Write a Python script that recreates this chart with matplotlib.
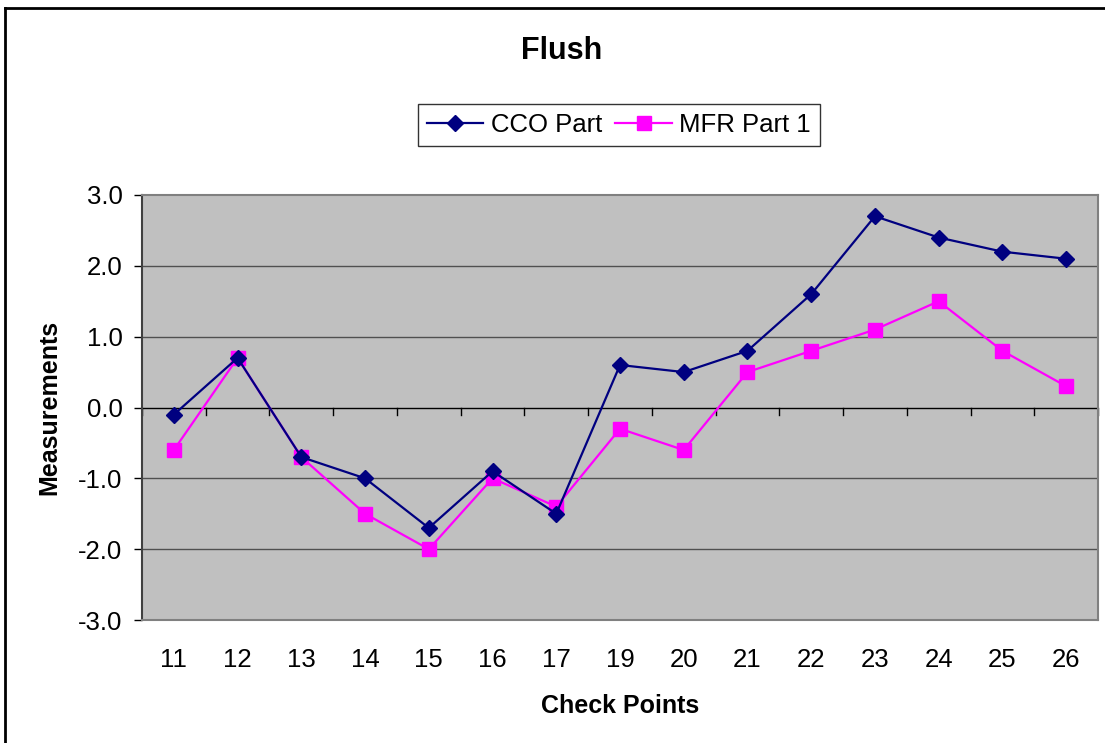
import matplotlib
matplotlib.use("Agg")
import matplotlib.pyplot as plt
from matplotlib.lines import Line2D
import numpy as np

categories = ["11", "12", "13", "14", "15", "16", "17", "19", "20", "21", "22", "23", "24", "25", "26"]
cco_part = [-0.1, 0.7, -0.7, -1.0, -1.7, -0.9, -1.5, 0.6, 0.5, 0.8, 1.6, 2.7, 2.4, 2.2, 2.1]
mfr_part1 = [-0.6, 0.7, -0.7, -1.5, -2.0, -1.0, -1.4, -0.3, -0.6, 0.5, 0.8, 1.1, 1.5, 0.8, 0.3]
y_ticks = [-3.0, -2.0, -1.0, 0.0, 1.0, 2.0, 3.0]

plt.rcParams['font.family'] = ['Liberation Sans', 'DejaVu Sans']

W, H = 1105, 743
fig = plt.figure(figsize=(W / 100, H / 100), dpi=100)
ax = fig.add_axes([142 / W, 1 - 620 / H, (1098 - 142) / W, (620 - 195) / H])
ax.set_facecolor('#C0C0C0')

x = np.arange(len(categories))
ax.set_xlim(-0.5, len(categories) - 0.5)
ax.set_ylim(-3, 3)

for yv in y_ticks:
    if yv not in (-3.0, 3.0, 0.0):
        ax.axhline(yv, color='#505050', lw=1.0, zorder=1)

# zero axis line with ticks at category boundaries
ax.axhline(0, color='black', lw=1.0, zorder=2)
for b in np.arange(-0.5, len(categories) + 0.5, 1.0):
    ax.plot([b, b], [0, -0.1], color='black', lw=1.0, zorder=2, clip_on=False)

ax.plot(x, cco_part, color='#000080', lw=1.6, marker='D', markersize=8.5,
        markerfacecolor='#000080', markeredgecolor='#000080', label='CCO Part', zorder=4)
ax.plot(x, mfr_part1, color='#FF00FF', lw=1.6, marker='s', markersize=9.5,
        markerfacecolor='#FF00FF', markeredgecolor='#FF00FF', label='MFR Part 1', zorder=3)

ax.set_yticks(y_ticks)
ax.set_yticklabels([f"{v:.1f}" for v in y_ticks])
ax.set_xticks(x)
ax.set_xticklabels(categories)
ax.tick_params(axis='y', length=6, width=1, pad=8, labelsize=18.5, color='black')
ax.tick_params(axis='x', length=0, pad=20, labelsize=18.5)

for s in ['top', 'right', 'bottom']:
    ax.spines[s].set_color('#808080')
    ax.spines[s].set_linewidth(1.5)
ax.spines['left'].set_color('#404040')
ax.spines['left'].set_linewidth(1.5)

ax.set_xlabel('Check Points', fontsize=18, fontweight='bold', labelpad=16)
ax.set_ylabel('Measurements', fontsize=18, fontweight='bold', labelpad=12)

fig.text(562 / W, 1 - 51 / H, 'Flush', ha='center', va='center', fontsize=22, fontweight='bold')

leg = fig.legend(loc='center', bbox_to_anchor=(619 / W, 1 - 125 / H), ncol=2, fontsize=18.5,
                 frameon=True, fancybox=False, edgecolor='black', handlelength=2.2,
                 handletextpad=0.3, columnspacing=0.5, borderpad=0.35, borderaxespad=0)
leg.get_frame().set_linewidth(1.0)

# chart border (left and top)
fig.add_artist(Line2D([5 / W, 5 / W], [0, 1 - 8 / H], transform=fig.transFigure, color='black', lw=2))
fig.add_artist(Line2D([5 / W, 1], [1 - 8 / H, 1 - 8 / H], transform=fig.transFigure, color='black', lw=2))

fig.savefig('out.png', dpi=100)
